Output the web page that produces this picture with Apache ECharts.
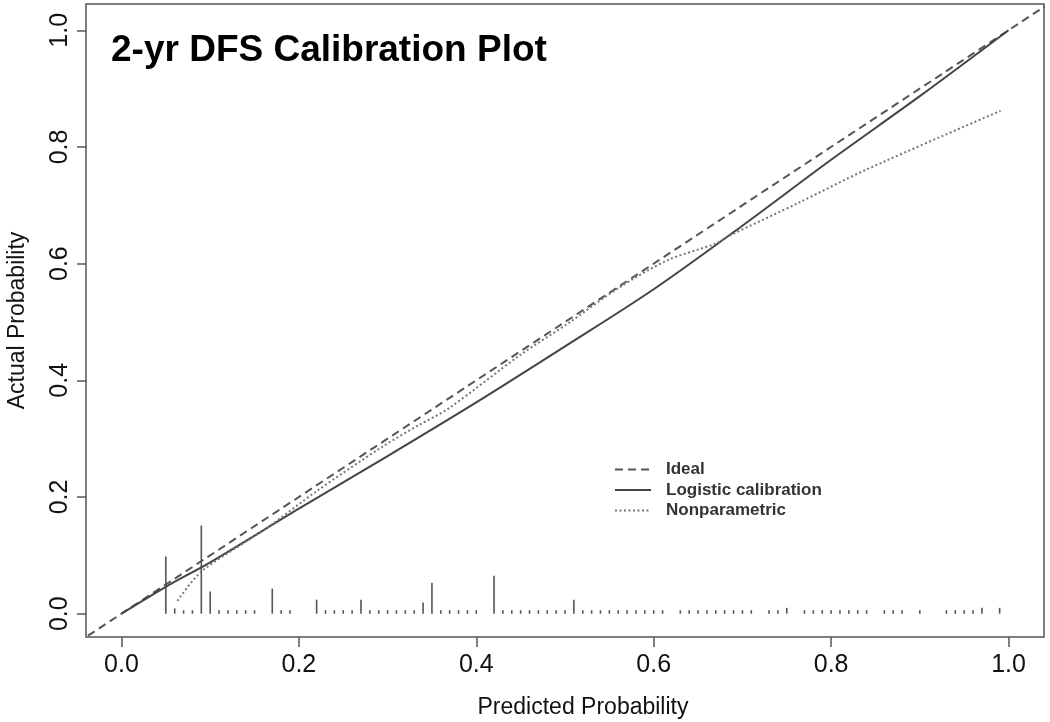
<!DOCTYPE html>
<html>
<head>
<meta charset="utf-8">
<script src="https://cdn.jsdelivr.net/npm/echarts@6/dist/echarts.min.js"></script>
<style>html,body{margin:0;padding:0;background:#fff;}#c{width:1050px;height:722px;}</style>
</head>
<body>
<div id="c"></div>
<script>
// ---- data ----
const tickValues = [0, 0.2, 0.4, 0.6, 0.8, 1.0];
const idealLine = [[-0.05, -0.05], [1.1, 1.1]];
const logisticX = [0.0, 0.05, 0.1, 0.2, 0.3, 0.4, 0.5, 0.6, 0.7, 0.8, 0.9, 1.0];
const logisticY = [0.0, 0.046, 0.088, 0.180, 0.270, 0.362, 0.458, 0.556, 0.665, 0.778, 0.887, 1.0];
const nonparX = [0.063, 0.09, 0.144, 0.166, 0.22, 0.294, 0.335, 0.369, 0.45, 0.504, 0.56, 0.616, 0.669, 0.687, 0.763, 0.838, 0.991];
const nonparY = [0.022, 0.072, 0.127, 0.149, 0.21, 0.286, 0.323, 0.352, 0.444, 0.498, 0.558, 0.606, 0.634, 0.649, 0.704, 0.760, 0.862];
const rugX = [0.05,0.06,0.07,0.08,0.09,0.10,0.11,0.12,0.13,0.14,0.15,0.17,0.18,0.19,
  0.22,0.23,0.24,0.25,0.26,0.27,0.28,0.29,0.30,0.31,0.32,0.33,0.34,0.35,0.36,0.37,0.38,0.39,0.40,
  0.42,0.43,0.44,0.45,0.46,0.47,0.48,0.49,0.50,0.51,0.52,0.53,0.54,0.55,0.56,0.57,0.58,0.59,0.60,0.61,
  0.63,0.64,0.65,0.66,0.67,0.68,0.69,0.70,0.71,0.73,0.74,0.75,
  0.77,0.78,0.79,0.80,0.81,0.82,0.83,0.84,0.86,0.87,0.88,0.90,0.93,0.94,0.95,0.96,0.97,0.99];
const rugH = [0.098,0.009,0.006,0.006,0.151,0.038,0.006,0.006,0.006,0.006,0.006,0.043,0.006,0.006,
  0.024,0.006,0.006,0.006,0.006,0.024,0.006,0.006,0.006,0.006,0.006,0.006,0.019,0.053,0.006,0.006,0.006,0.006,0.006,
  0.065,0.006,0.006,0.006,0.006,0.006,0.006,0.006,0.006,0.024,0.006,0.006,0.006,0.006,0.006,0.006,0.006,0.006,0.006,0.006,
  0.006,0.006,0.006,0.006,0.006,0.006,0.006,0.006,0.006,0.006,0.006,0.010,
  0.006,0.006,0.006,0.006,0.006,0.006,0.006,0.006,0.006,0.006,0.006,0.006,0.006,0.006,0.006,0.006,0.010,0.010];
const titleText = '2-yr DFS Calibration Plot';
const xTitle = 'Predicted Probability';
const yTitle = 'Actual Probability';
const seriesNames = ['Ideal', 'Logistic calibration', 'Nonparametric'];

// ---- chart ----
const FONT = '"Liberation Sans", Arial, sans-serif';
const zip = (a, b) => a.map((v, i) => [v, b[i]]);
const chart = echarts.init(document.getElementById('c'), null, {renderer: 'canvas'});
chart.setOption({
  animation: false,
  backgroundColor: '#fff',
  title: {
    text: titleText, left: 106, top: 27,
    textStyle: {fontFamily: FONT, fontSize: 37, fontWeight: 'bold', color: '#000'}
  },
  grid: {left: 86, top: 4, width: 958, height: 633, outerBoundsMode: 'none', containLabel: false,
    show: true, borderColor: '#555', borderWidth: 1.5, backgroundColor: 'transparent'},
  legend: {
    data: seriesNames, orient: 'vertical', left: 614, top: 461, padding: 0,
    itemWidth: 36, itemHeight: 10, itemGap: 3.5,
    itemStyle: {color: 'rgba(0,0,0,0)', borderColor: 'rgba(0,0,0,0)', borderWidth: 0},
    textStyle: {fontFamily: FONT, fontSize: 17, fontWeight: 'bold', color: '#333', padding: [0, 0, 0, 10]}
  },
  xAxis: {
    type: 'value', min: -0.04, max: 1.04,
    axisLine: {show: false, onZero: false},
    splitLine: {show: false},
    axisTick: {show: true, customValues: tickValues, length: 10, lineStyle: {color: '#555', width: 1.5}},
    axisLabel: {customValues: tickValues, formatter: v => v.toFixed(1), fontFamily: FONT, fontSize: 25, color: '#111', margin: 16},
    name: xTitle, nameLocation: 'middle', nameGap: 59,
    nameTextStyle: {fontFamily: FONT, fontSize: 23, color: '#111', padding: [0, 0, 0, 36]}
  },
  yAxis: {
    type: 'value', min: -0.04, max: 1.045,
    axisLine: {show: false, onZero: false},
    splitLine: {show: false},
    axisTick: {show: true, customValues: tickValues, length: 9, lineStyle: {color: '#555', width: 1.5}},
    axisLabel: {customValues: tickValues, formatter: v => v.toFixed(1), rotate: 90, fontFamily: FONT, fontSize: 25, color: '#111', margin: 13},
    name: yTitle, nameLocation: 'middle', nameGap: 57, nameRotate: 90,
    nameTextStyle: {fontFamily: FONT, fontSize: 23, color: '#111'}
  },
  series: [
    {
      name: seriesNames[0], type: 'line', data: idealLine, symbol: 'none', clip: true,
      lineStyle: {color: '#555', width: 2, type: [8, 5]}, itemStyle: {color: '#555'}
    },
    {
      name: seriesNames[1], type: 'line', data: zip(logisticX, logisticY), symbol: 'none', smooth: 0.3, clip: true,
      lineStyle: {color: '#444', width: 2, type: 'solid'}, itemStyle: {color: '#444'}
    },
    {
      name: seriesNames[2], type: 'line', data: zip(nonparX, nonparY), symbol: 'none', smooth: 0.3, clip: true,
      lineStyle: {color: '#777', width: 2, type: [2, 2.5]}, itemStyle: {color: '#777'}
    },
    {
      name: 'rug', type: 'custom', data: zip(rugX, rugH), silent: true,
      renderItem: function (params, api) {
        const p0 = api.coord([api.value(0), 0]);
        const p1 = api.coord([api.value(0), api.value(1)]);
        return {type: 'line', shape: {x1: p0[0], y1: p0[1], x2: p1[0], y2: p1[1]}, style: {stroke: '#555', lineWidth: 1.6}};
      }
    }
  ]
});
</script>
</body>
</html>
